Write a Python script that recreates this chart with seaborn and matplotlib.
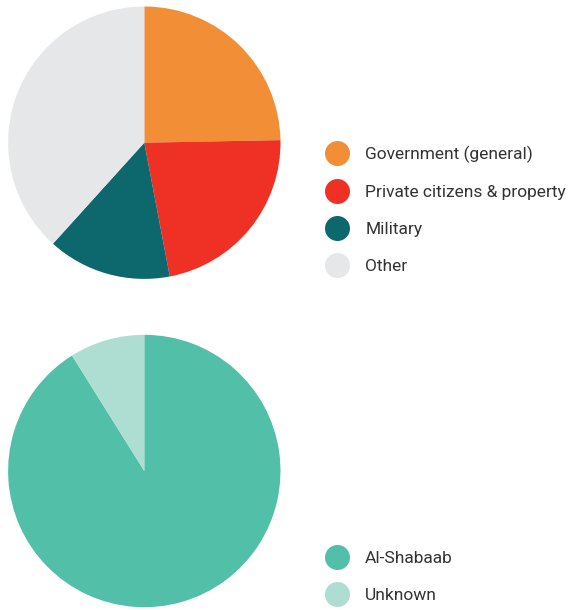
import matplotlib.pyplot as plt
import seaborn as sns
from matplotlib.lines import Line2D

# target share of attacks (top) and perpetrators (bottom)
target_labels = ["Government (general)", "Private citizens & property", "Military", "Other"]
target_shares = [24.7, 22.3, 14.7, 38.3]
target_colors = ["#F28E35", "#EE3124", "#0D686E", "#E6E7E9"]

actor_labels = ["Al-Shabaab", "Unknown"]
actor_shares = [91.1, 8.9]
actor_colors = ["#52C0A8", "#AEDDD1"]

W, H = 568, 610


def drawPie(ax, shares, colors) -> None:
    ax.pie(
        shares,
        colors=colors,
        startangle=90,
        counterclock=False,
        wedgeprops={"linewidth": 0},
    )
    ax.set_xlim(-1, 1)
    ax.set_ylim(-1, 1)
    ax.set_aspect("equal")
    ax.axis("off")


def addLegend(fig, labels, colors, top_px) -> None:
    handles = [
        Line2D([], [], marker="o", linestyle="none", markersize=18,
               markerfacecolor=c, markeredgewidth=0)
        for c in colors
    ]
    fig.legend(
        handles,
        labels,
        loc="upper left",
        bbox_to_anchor=(325 / W, 1 - top_px / H),
        frameon=False,
        fontsize=12.5,
        labelcolor="#333333",
        handlelength=1.4,
        handletextpad=0.92,
        labelspacing=1.25,
        borderpad=0,
        borderaxespad=0,
    )


sns.set_theme(style="white")
plt.rcParams["font.family"] = ["Liberation Sans Narrow", "Roboto", "DejaVu Sans"]

fig = plt.figure(figsize=(W / 100, H / 100), dpi=100)

r = 136.2
ax1 = fig.add_axes([(144.3 - r) / W, 1 - (142.7 + r) / H, 2 * r / W, 2 * r / H])
drawPie(ax1, target_shares, target_colors)

ax2 = fig.add_axes([(144.3 - r) / W, 1 - (471 + r) / H, 2 * r / W, 2 * r / H])
drawPie(ax2, actor_shares, actor_colors)

addLegend(fig, target_labels, target_colors, 146)
addLegend(fig, actor_labels, actor_colors, 551)

fig.savefig("out.png", dpi=100, facecolor="white")
